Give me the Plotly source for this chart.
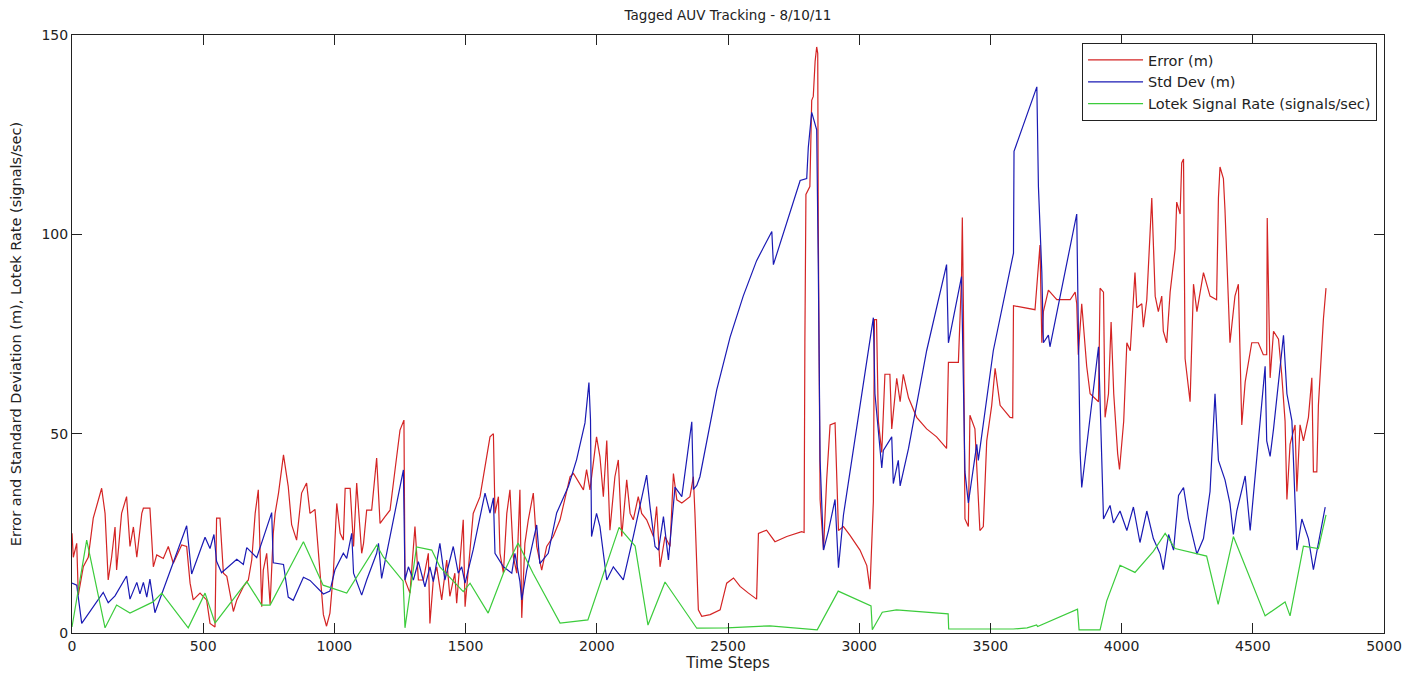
import plotly.graph_objects as go

# ---- Data ----
err_x = [0, 5, 18, 24, 43, 62, 81, 113, 126, 138, 151, 164, 170, 189, 208, 221, 234, 247, 266, 272, 297, 310, 323, 348, 367, 386, 418, 437, 450, 462, 488, 513, 526, 545, 551, 564, 577, 590, 602, 615, 628, 653, 672, 685, 698, 710, 723, 729, 742, 755, 767, 774, 787, 806, 824, 837, 856, 875, 894, 907, 926, 945, 958, 970, 983, 996, 1009, 1022, 1034, 1041, 1060, 1073, 1085, 1104, 1111, 1123, 1142, 1161, 1174, 1193, 1212, 1231, 1250, 1265, 1269, 1288, 1307, 1320, 1339, 1358, 1364, 1377, 1390, 1409, 1428, 1440, 1459, 1466, 1491, 1498, 1517, 1529, 1555, 1580, 1593, 1606, 1612, 1625, 1631, 1644, 1657, 1669, 1682, 1695, 1707, 1714, 1726, 1739, 1758, 1771, 1790, 1809, 1834, 1860, 1885, 1898, 1911, 1949, 1961, 1974, 1999, 2012, 2025, 2038, 2050, 2069, 2082, 2095, 2114, 2127, 2139, 2158, 2171, 2190, 2216, 2228, 2241, 2260, 2279, 2292, 2305, 2324, 2355, 2368, 2374, 2387, 2400, 2432, 2470, 2495, 2521, 2546, 2578, 2609, 2616, 2647, 2679, 2724, 2781, 2790, 2793, 2797, 2812, 2819, 2825, 2832, 2838, 2842, 2844, 2851, 2864, 2876, 2889, 2908, 2921, 2940, 2965, 3003, 3029, 3041, 3054, 3058, 3066, 3073, 3086, 3098, 3117, 3124, 3143, 3156, 3168, 3188, 3219, 3257, 3295, 3333, 3340, 3378, 3390, 3393, 3397, 3403, 3416, 3422, 3441, 3460, 3473, 3486, 3505, 3518, 3537, 3575, 3585, 3588, 3670, 3677, 3689, 3696, 3702, 3721, 3753, 3804, 3823, 3829, 3835, 3848, 3867, 3880, 3912, 3918, 3931, 3937, 3950, 3960, 3970, 3985, 3992, 4008, 4020, 4033, 4051, 4058, 4077, 4083, 4096, 4115, 4128, 4140, 4153, 4159, 4172, 4185, 4204, 4210, 4223, 4229, 4236, 4242, 4261, 4274, 4287, 4312, 4337, 4362, 4369, 4375, 4388, 4394, 4413, 4432, 4445, 4458, 4471, 4496, 4521, 4540, 4553, 4555, 4566, 4579, 4598, 4610, 4623, 4630, 4642, 4661, 4668, 4680, 4693, 4712, 4725, 4731, 4744, 4750, 4757, 4769, 4779]
err_y = [25, 19, 22.5, 9.5, 16.6, 19, 28.8, 36.3, 30, 13.3, 19, 26.6, 15.8, 30, 34.2, 21.7, 26.6, 19, 30, 31.3, 31.3, 16.6, 19.6, 18.7, 21.7, 17.5, 22.1, 21.7, 12.5, 8.3, 10, 8.3, 2.4, 1.5, 28.8, 28.8, 15, 14.2, 10, 5.4, 8.3, 11.6, 13.3, 18.3, 30, 35.9, 6.6, 15.8, 20, 7.1, 25, 30, 35.1, 44.7, 36.8, 27.2, 23.3, 35.1, 37.6, 30, 31, 15.8, 4.6, 1.7, 5, 15, 32.5, 25, 23.3, 36.3, 36.3, 21.7, 37.6, 20, 22.5, 30.8, 30.8, 43.9, 27.5, 29.2, 30.8, 40.9, 50.9, 53.4, 13.3, 10, 26.7, 13.3, 13.3, 20, 2.4, 13.3, 16.6, 8.3, 18.3, 9.2, 15, 7.5, 28.4, 6.6, 20, 30, 34.2, 43.4, 49.2, 50, 30, 34.2, 20, 15, 30, 35.9, 19.1, 15, 35.9, 3.8, 22.5, 28.4, 35.1, 21.7, 15.8, 21.7, 24.2, 28.4, 35.1, 39.2, 40, 35.9, 41, 35.9, 49.2, 44.2, 34.2, 48.3, 25.8, 39.2, 43.4, 24.2, 38.4, 30, 28.4, 34.2, 30, 28.4, 24.2, 31.7, 16.6, 24.2, 21.7, 40, 33.4, 32.6, 34.2, 39.2, 30, 5.8, 4.2, 4.6, 5.8, 12.5, 13.8, 11.7, 10, 8.5, 25, 25.8, 22.9, 24.2, 25.4, 25.2, 72.8, 110, 112, 133.6, 134.6, 143.4, 147, 145.4, 102.2, 33.5, 20.8, 38.4, 52.2, 52.7, 25.7, 26.7, 24.5, 20.8, 16.9, 11, 33, 78.6, 78.6, 53.1, 45.3, 64.9, 64.9, 51.2, 63.9, 58, 64.9, 59, 54.1, 51.2, 49.2, 46.3, 67.9, 67.9, 89.4, 104.2, 82.6, 28.6, 26.7, 54.6, 51.2, 25.7, 26.7, 48.2, 57.1, 66.4, 57.1, 54.1, 54, 82.1, 81.1, 86.5, 97.3, 72.8, 80.6, 86, 83.6, 83.6, 85.5, 82.6, 69.8, 82.6, 66.9, 60, 58, 86.5, 85.5, 54.1, 60, 78, 60, 45, 41, 53.1, 72.8, 70.8, 90.4, 81.6, 82.6, 76.7, 83.6, 109.1, 84.5, 80.6, 84.5, 75.7, 72.8, 85.5, 96.3, 108.1, 105.1, 117.9, 118.9, 68.8, 58, 87.5, 80.6, 90.4, 84.5, 83.6, 109.1, 116.9, 114, 106.1, 72.8, 84.5, 87.5, 52.2, 63, 72.8, 72.8, 69.8, 69.8, 104.1, 64, 75.7, 73.7, 65, 53.1, 33.5, 47.3, 52.2, 35.5, 52.2, 48.2, 54.1, 64, 40.4, 40.4, 57.1, 65, 78.7, 86.5]

std_x = [0, 18, 37, 119, 138, 164, 208, 221, 247, 259, 272, 285, 297, 316, 437, 456, 507, 526, 541, 551, 570, 628, 653, 666, 704, 761, 767, 806, 824, 843, 882, 907, 958, 983, 1002, 1034, 1047, 1066, 1073, 1104, 1123, 1161, 1168, 1180, 1263, 1269, 1282, 1301, 1320, 1345, 1364, 1377, 1402, 1421, 1453, 1472, 1485, 1498, 1529, 1574, 1593, 1606, 1612, 1644, 1676, 1688, 1707, 1714, 1733, 1745, 1771, 1783, 1815, 1847, 1892, 1923, 1955, 1970, 1976, 1980, 1999, 2012, 2038, 2063, 2101, 2139, 2190, 2203, 2222, 2235, 2254, 2273, 2298, 2324, 2362, 2368, 2381, 2393, 2457, 2508, 2558, 2609, 2667, 2673, 2775, 2800, 2806, 2819, 2838, 2844, 2851, 2864, 2883, 2908, 2921, 2940, 3004, 3054, 3060, 3073, 3086, 3092, 3124, 3130, 3149, 3156, 3188, 3257, 3333, 3340, 3390, 3403, 3416, 3448, 3454, 3511, 3588, 3590, 3677, 3683, 3696, 3702, 3721, 3727, 3829, 3835, 3842, 3848, 3912, 3931, 3956, 3969, 3994, 4020, 4045, 4070, 4096, 4121, 4147, 4159, 4179, 4198, 4217, 4236, 4255, 4287, 4312, 4337, 4356, 4369, 4394, 4413, 4426, 4439, 4471, 4490, 4515, 4547, 4553, 4566, 4579, 4617, 4630, 4649, 4655, 4668, 4687, 4712, 4731, 4750, 4776]
std_y = [12.5, 12, 2.4, 10.2, 7.6, 9.3, 14.3, 8.5, 12.7, 9.8, 12.7, 9, 13.5, 5.1, 26.9, 14.8, 24, 21.2, 24.7, 18, 15.1, 18.5, 17.2, 21.4, 18.9, 30.2, 17.6, 17.2, 9, 8.2, 14, 13.2, 9.8, 10.5, 15.8, 20, 18.7, 25, 15, 9.5, 13.3, 20, 22.5, 13.7, 40.9, 13.3, 16.6, 13.3, 17.9, 11.6, 16.6, 12.9, 22.5, 13.3, 21.7, 15, 16.6, 12.5, 20.9, 35.1, 30.1, 33.9, 20, 16.6, 15, 20, 12.9, 8.3, 15.8, 19.2, 27.1, 17.4, 20, 30.1, 36.8, 43.5, 52.7, 62.8, 53.5, 24.2, 30, 26.7, 13.3, 16.6, 13.3, 24.2, 39.6, 31.6, 21.7, 20.8, 29.2, 18.3, 36.6, 34.2, 53, 36, 37, 39.2, 61, 74.2, 84.5, 93.4, 100.7, 92.4, 113.5, 114, 121.8, 130.6, 126.2, 92.4, 43.3, 20.8, 25.7, 33.5, 16.4, 29.6, 57.1, 79.1, 60, 50.2, 41.4, 45.8, 49.2, 37.5, 43.3, 36.9, 46.3, 70.8, 92.4, 72.8, 89.4, 40.4, 32.6, 47.3, 43.3, 70.8, 95.3, 120.8, 137, 112, 90.4, 72.8, 74.7, 71.8, 105.1, 76.7, 45.3, 36.5, 71.8, 28.6, 32, 27.6, 30.6, 25.7, 31.6, 22.7, 30.6, 23.7, 19.8, 15.9, 24.7, 20.8, 34.5, 36.5, 28.6, 19.8, 23.7, 35.5, 60, 43.3, 38.4, 32.5, 24.7, 30.6, 39.4, 25.7, 43.3, 66.9, 48.2, 44.3, 51.2, 74.7, 60, 53.2, 43.3, 20.8, 28.6, 23.7, 15.9, 22.7, 31.6]

lotek_x = [0, 56, 126, 170, 221, 309, 342, 443, 507, 545, 666, 723, 755, 882, 957, 1047, 1161, 1187, 1262, 1269, 1313, 1371, 1402, 1491, 1517, 1586, 1644, 1700, 1757, 1860, 1966, 2085, 2146, 2195, 2260, 2381, 2495, 2660, 2840, 2920, 3045, 3050, 3088, 3142, 3339, 3341, 3587, 3640, 3676, 3680, 3832, 3838, 3918, 3943, 3994, 4051, 4121, 4166, 4204, 4324, 4368, 4426, 4547, 4623, 4642, 4693, 4750, 4779]
lotek_y = [1.5, 23.3, 1.3, 7, 5, 7.8, 10, 1.3, 10, 2.5, 12.9, 7, 7, 22.9, 12, 10, 22, 19, 13, 1.3, 21.6, 20.8, 16.6, 10.4, 12.5, 5, 15, 22.6, 15, 2.5, 3.3, 26.5, 21.8, 2, 12.8, 1.2, 1.3, 1.8, 0.8, 10.5, 6.8, 0.8, 5.2, 5.8, 4.8, 1, 1, 1.3, 2, 1.6, 6, 0.8, 0.8, 8, 17, 15.2, 20.5, 25, 21.2, 19.3, 7.2, 24.2, 4.3, 7.8, 4.3, 21.8, 21.2, 29.6]

series_names = ["Error (m)", "Std Dev (m)", "Lotek Signal Rate (signals/sec)"]
series_colors = ["#d42424", "#1a1ab4", "#3ccc3c"]

x_ticks = [0, 500, 1000, 1500, 2000, 2500, 3000, 3500, 4000, 4500, 5000]
y_ticks = [0, 50, 100, 150]

FONT = "DejaVu Sans, Arial, sans-serif"
INK = "#222"

fig = go.Figure()
for xs, ys, name, col in zip([err_x, std_x, lotek_x], [err_y, std_y, lotek_y],
                             series_names, series_colors):
    fig.add_trace(go.Scatter(x=xs, y=ys, mode="lines", name=name,
                             line=dict(color=col, width=1.2)))

axis_common = dict(showgrid=False, zeroline=False, showline=True, linecolor=INK,
                   linewidth=1, mirror="allticks", ticks="inside", ticklen=10,
                   tickcolor=INK, tickwidth=1, automargin=False,
                   tickfont=dict(family=FONT, size=14, color=INK))

# page has an 8px body margin: figure is 1406x669 placed at (8,8)
fig.update_layout(
    width=1406, height=669,
    margin=dict(l=64, r=30, t=27, b=44),
    paper_bgcolor="white", plot_bgcolor="white",
    title=dict(text="Tagged AUV Tracking - 8/10/11", x=(64 + 1376) / 2 / 1406, xanchor="center",
               y=1 - 3 / 669, yanchor="top", pad=dict(t=0, b=0),
               font=dict(family=FONT, size=13.5, color=INK)),
    xaxis=dict(range=[0, 5000], tickvals=x_ticks,
               title=dict(text="Time Steps", standoff=2,
                          font=dict(family=FONT, size=15, color=INK)),
               **axis_common),
    yaxis=dict(range=[0, 150], tickvals=y_ticks,
               title=dict(text="Error and Standard Deviation (m), Lotek Rate (signals/sec)",
                          standoff=18, font=dict(family=FONT, size=14.5, color=INK)),
               **axis_common),
    legend=dict(x=0.9947, y=0.9866, xanchor="right", yanchor="top",
                bgcolor="white", bordercolor=INK, borderwidth=1,
                font=dict(family=FONT, size=14.5, color=INK),
                tracegroupgap=0, itemwidth=55),
    showlegend=True,
)

fig.write_html("out.html")
